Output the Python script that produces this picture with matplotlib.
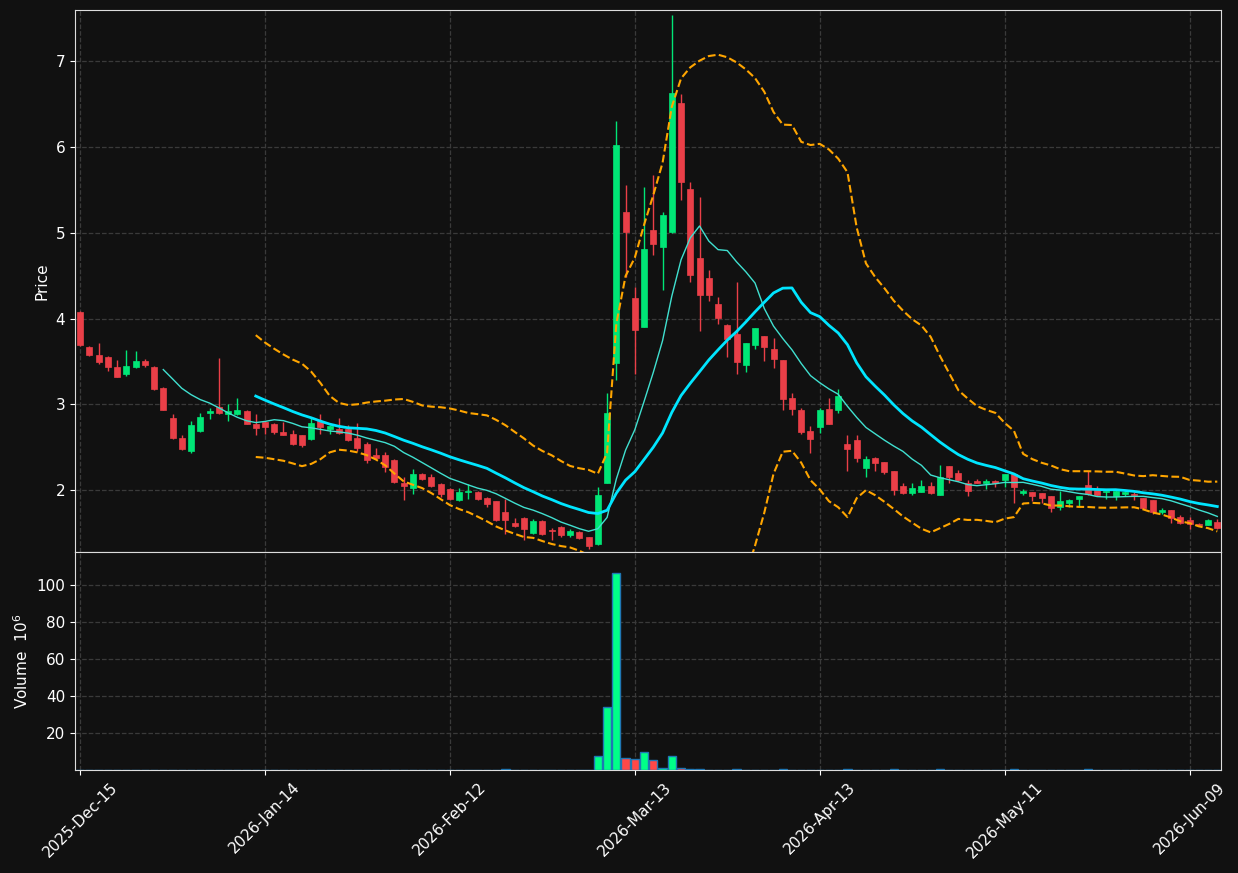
import numpy as np
import pandas as pd
import matplotlib
matplotlib.use("Agg")
import matplotlib.pyplot as plt

opens = [4.08, 3.67, 3.58, 3.555, 3.44, 3.36, 3.44, 3.51, 3.44, 3.19,
         2.84, 2.61, 2.46, 2.69, 2.90, 2.966, 2.89, 2.89, 2.92, 2.77,
         2.80, 2.77, 2.68, 2.654, 2.64, 2.60, 2.806, 2.71, 2.71, 2.71,
         2.607, 2.537, 2.41, 2.41, 2.35, 2.09, 2.03, 2.19, 2.15, 2.07,
         2.02, 1.887, 1.977, 1.98, 1.915, 1.87, 1.743, 1.615, 1.68, 1.50,
         1.638, 1.53, 1.568, 1.474, 1.51, 1.45, 1.373, 2.085, 3.48, 5.245,
         4.243, 3.908, 5.03, 4.842, 5.006, 6.517, 5.513, 4.707, 4.473, 4.17,
         3.928, 3.822, 3.457, 3.69, 3.796, 3.644, 3.519, 3.075, 2.935, 2.69,
         2.74, 2.946, 2.94, 2.54, 2.59, 2.26, 2.38, 2.327, 2.22, 2.055,
         1.969, 1.98, 2.055, 1.945, 2.277, 2.20, 2.085, 2.113, 2.085, 2.113,
         2.117, 2.187, 1.973, 1.977, 1.965, 1.93, 1.805, 1.848, 1.90, 2.06,
         2.01, 1.977, 1.934, 1.96, 1.946, 1.907, 1.883, 1.743, 1.766, 1.685,
         1.658, 1.60, 1.60, 1.63]
highs = [4.09, 3.68, 3.72, 3.56, 3.515, 3.636, 3.62, 3.53, 3.45, 3.20,
         2.89, 2.65, 2.81, 2.90, 2.955, 3.54, 3.00, 3.07, 2.93, 2.885,
         2.81, 2.78, 2.80, 2.70, 2.65, 2.84, 2.884, 2.76, 2.84, 2.76,
         2.78, 2.56, 2.49, 2.45, 2.36, 2.16, 2.25, 2.20, 2.195, 2.09,
         2.03, 2.03, 2.07, 1.995, 1.92, 1.88, 1.90, 1.68, 1.69, 1.66,
         1.657, 1.56, 1.58, 1.548, 1.52, 1.46, 2.04, 3.13, 6.30, 5.555,
         4.37, 5.54, 5.68, 5.24, 7.54, 6.62, 5.59, 5.415, 4.57, 4.25,
         3.94, 4.43, 3.72, 3.89, 3.80, 3.78, 3.52, 3.13, 2.96, 2.75,
         2.955, 3.08, 3.18, 2.65, 2.65, 2.40, 2.39, 2.33, 2.23, 2.085,
         2.08, 2.125, 2.10, 2.30, 2.28, 2.24, 2.125, 2.135, 2.135, 2.12,
         2.19, 2.20, 2.02, 1.98, 1.97, 1.935, 1.99, 1.90, 1.935, 2.22,
         2.05, 1.99, 2.00, 1.99, 1.98, 1.91, 1.89, 1.79, 1.77, 1.71,
         1.69, 1.62, 1.66, 1.66]
lows = [3.68, 3.56, 3.47, 3.39, 3.32, 3.33, 3.43, 3.44, 3.17, 2.93,
        2.60, 2.47, 2.44, 2.68, 2.83, 2.89, 2.81, 2.88, 2.77, 2.65,
        2.66, 2.66, 2.64, 2.53, 2.51, 2.59, 2.66, 2.66, 2.66, 2.58,
        2.46, 2.32, 2.37, 2.21, 2.09, 1.89, 1.96, 2.12, 2.04, 1.92,
        1.89, 1.88, 1.90, 1.89, 1.81, 1.64, 1.49, 1.57, 1.42, 1.49,
        1.48, 1.42, 1.46, 1.45, 1.43, 1.31, 1.366, 2.08, 3.29, 4.49,
        3.36, 3.90, 4.745, 4.34, 5.0, 5.39, 4.43, 3.857, 4.21, 3.94,
        3.557, 3.355, 3.375, 3.65, 3.51, 3.43, 2.94, 2.88, 2.66, 2.43,
        2.67, 2.77, 2.90, 2.22, 2.33, 2.155, 2.23, 2.19, 1.94, 1.96,
        1.945, 1.975, 1.96, 1.94, 2.08, 2.11, 1.933, 2.08, 2.015, 2.04,
        2.04, 1.856, 1.95, 1.88, 1.85, 1.746, 1.77, 1.80, 1.82, 1.95,
        1.93, 1.90, 1.89, 1.93, 1.89, 1.78, 1.72, 1.72, 1.62, 1.61,
        1.55, 1.58, 1.59, 1.55]
closes = [3.69, 3.58, 3.50, 3.44, 3.325, 3.45, 3.51, 3.455, 3.18, 2.94,
          2.61, 2.48, 2.76, 2.86, 2.925, 2.90, 2.92, 2.935, 2.775, 2.73,
          2.74, 2.68, 2.65, 2.54, 2.53, 2.78, 2.736, 2.75, 2.67, 2.59,
          2.494, 2.354, 2.38, 2.27, 2.10, 2.05, 2.19, 2.13, 2.05, 1.96,
          1.90, 1.977, 1.99, 1.90, 1.84, 1.653, 1.653, 1.58, 1.548, 1.64,
          1.49, 1.52, 1.474, 1.52, 1.443, 1.35, 1.95, 2.896, 6.03, 5.006,
          3.87, 4.815, 4.87, 5.21, 6.634, 5.59, 4.515, 4.274, 4.274, 4.006,
          3.764, 3.50, 3.717, 3.889, 3.674, 3.53, 3.067, 2.95, 2.68, 2.596,
          2.935, 2.775, 3.10, 2.48, 2.38, 2.36, 2.32, 2.21, 2.00, 1.973,
          2.031, 2.055, 1.969, 2.16, 2.152, 2.117, 1.992, 2.085, 2.113, 2.085,
          2.187, 2.04, 1.99, 1.933, 1.91, 1.79, 1.88, 1.89, 1.93, 1.96,
          1.94, 1.99, 1.99, 1.976, 1.94, 1.79, 1.743, 1.766, 1.676, 1.62,
          1.612, 1.59, 1.65, 1.56]
# volume in millions
volumes = [0.05] * 124
vol_overrides = {46: 0.3, 56: 7.4, 57: 34.2, 58: 106.8, 59: 6.3, 60: 5.8,
                 61: 9.6, 62: 5.3, 63: 0.9, 64: 7.4, 65: 0.9, 66: 0.3,
                 67: 0.8, 71: 0.4, 76: 0.3, 83: 0.3, 88: 0.3, 93: 0.3,
                 101: 0.3, 109: 0.3}
for k, v in vol_overrides.items():
    volumes[k] = v

tick_labels = ["2025-Dec-15", "2026-Jan-14", "2026-Feb-12", "2026-Mar-13",
               "2026-Apr-13", "2026-May-11", "2026-Jun-09"]

BG = "#111111"
UP = "#00e676"
DOWN = "#ea3f48"
VUP = "#00ff88"
VDOWN = "#ff4848"

o = np.array(opens); h = np.array(highs); l = np.array(lows); c = np.array(closes)
v = np.array(volumes)
n = len(c)
x = np.arange(n)
cs = pd.Series(c)
ma10 = cs.rolling(10).mean()
ma20 = cs.rolling(20).mean()
sd20 = cs.rolling(20).std(ddof=0)
upper = ma20 + 2 * sd20
lower = ma20 - 2 * sd20

fig = plt.figure(figsize=(12.38, 8.73), dpi=100, facecolor=BG)
ax = fig.add_axes([75/1238, 1 - 552/873, (1221-75)/1238, (552-10)/873])
axv = fig.add_axes([75/1238, 1 - 770/873, (1221-75)/1238, (770-552)/873], sharex=ax)

for a in (ax, axv):
    a.set_facecolor(BG)
    for s in a.spines.values():
        s.set_color("#dddddd")
    a.tick_params(colors="white", labelsize=11)
    a.grid(True, color="#3a3a3a", linestyle="--", linewidth=0.9)
    a.set_axisbelow(True)

up = c >= o
colors = np.where(up, UP, DOWN)
ax.vlines(x, l, h, colors=colors, linewidth=1.0, zorder=2)
body_bottom = np.minimum(o, c)
body_h = np.maximum(np.abs(c - o), 0.012)
ax.bar(x, body_h, bottom=body_bottom, width=0.65, color=colors,
       edgecolor=colors, linewidth=0.5, zorder=3)

ax.plot(x, ma10, color="#40e0d0", linewidth=1.0, zorder=4)
ax.plot(x, ma20, color="#00e5ff", linewidth=2.0, zorder=4)
ax.plot(x, upper, color="#ffa500", linewidth=1.5, linestyle="--", zorder=4)
ax.plot(x, lower, color="#ffa500", linewidth=1.5, linestyle="--", zorder=4)

ax.set_ylim(1.28, 7.6)
ax.set_xlim(-0.55, 123.4)
ax.set_ylabel("Price", color="white", fontsize=11)
ax.set_yticks([2, 3, 4, 5, 6, 7])
plt.setp(ax.get_xticklabels(), visible=False)
ax.tick_params(axis="x", length=0)

vcolors = np.where(up, VUP, VDOWN)
axv.bar(x, v, width=0.9, color=vcolors, edgecolor="#1f77b4", linewidth=1.0, zorder=3)
axv.set_ylim(0, 118)
axv.set_yticks([20, 40, 60, 80, 100])
axv.set_ylabel("Volume  $10^6$", color="white", fontsize=11)
axv.set_xticks(np.arange(0, n, 20))
axv.set_xticklabels(tick_labels, rotation=45, ha="center")

fig.savefig("out.png", dpi=100, facecolor=BG)
